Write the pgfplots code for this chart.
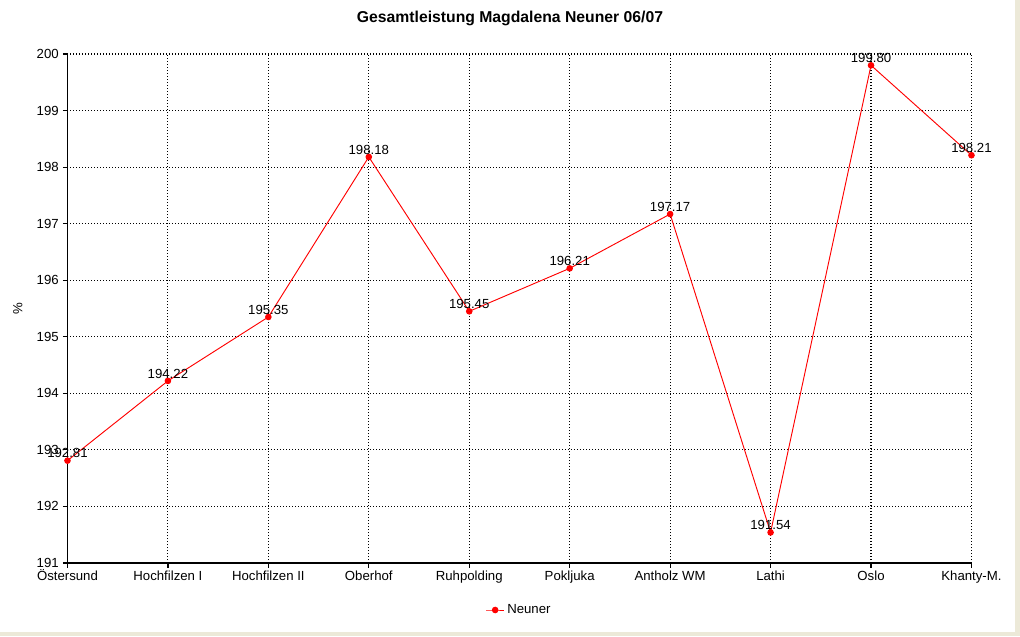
\documentclass[border=0pt]{standalone}
\usepackage{fontspec}
\setmainfont{Liberation Sans}
\usepackage{pgfplots}
\pgfplotsset{compat=1.18}
\definecolor{bordergray}{RGB}{236,233,216}
\begin{document}
\begin{tikzpicture}[x=1pt,y=1pt]
\fill[bordergray] (0,0) rectangle (765,477);
\fill[white] (0,3) rectangle (761.25,477);
\begin{axis}[
  at={(50.6pt,54.75pt)}, anchor=south west,
  scale only axis, width=678pt, height=381.75pt,
  xmin=0, xmax=9, ymin=191, ymax=200,
  xtick={0,...,9},
  xticklabels={Östersund,Hochfilzen I,Hochfilzen II,Oberhof,Ruhpolding,Pokljuka,Antholz WM,Lathi,Oslo,Khanty-M.},
  ytick={191,...,200},
  axis x line*=bottom, axis y line*=left,
  axis line style={black, line width=0.9pt},
  tick align=outside, major tick length=3.5pt,
  tick style={black, line width=0.9pt},
  grid=major,
  major grid style={black, line width=0.8pt, dash pattern=on 0.75pt off 1.5pt},
  /pgf/number format/assume math mode=true,
  tick label style={font=\fontsize{9.9}{11}\selectfont},
  xticklabel style={text height=7pt, text depth=2pt, yshift=1pt},
  yticklabel style={xshift=0.5pt},
  ylabel={\%},
  ylabel style={at={(axis description cs:-0.055,0.5)}, anchor=center, font=\fontsize{9.9}{11}\selectfont},
  legend style={at={(0.5,0)}, anchor=center, yshift=-35.25pt, draw=none, fill=none, font=\fontsize{9.9}{11}\selectfont},
  legend image code/.code={\draw[mark repeat=2,mark phase=2,#1] plot coordinates {(0pt,0pt) (6.75pt,0pt) (13.5pt,0pt)};},
  clip=false,
]
\addplot[red, line width=0.7pt, mark=*, mark size=2.1pt, mark options={solid, fill=red},
  nodes near coords,
  point meta=y,
  every node near coord/.append style={anchor=base, yshift=2pt, inner sep=0pt, black, font=\fontsize{9.9}{11}\selectfont,
    /pgf/number format/.cd, fixed, fixed zerofill, precision=2, assume math mode=true},
] coordinates {
(0,192.81) (1,194.22) (2,195.35) (3,198.18) (4,195.45) (5,196.21) (6,197.17) (7,191.54) (8,199.80) (9,198.21)
};
\addlegendentry{Neuner}
\end{axis}
\node[anchor=base, font=\fontsize{11.8}{13}\selectfont\bfseries] at (382.5,460) {Gesamtleistung Magdalena Neuner 06/07};
\end{tikzpicture}
\end{document}
